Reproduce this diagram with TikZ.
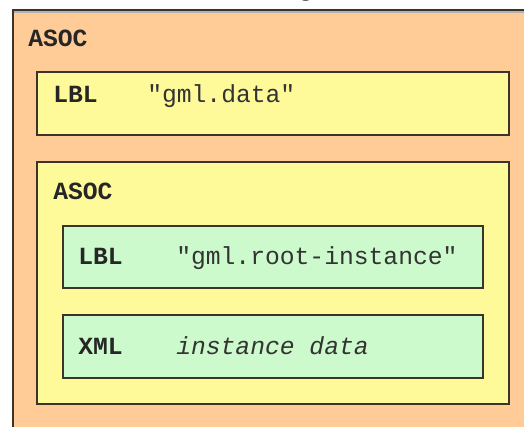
\documentclass[tikz,border=0pt]{standalone}
\usepackage{fontspec}
\setmainfont{Liberation Sans}
\setmonofont{Liberation Mono}
\definecolor{orangefill}{HTML}{FFCB96}
\definecolor{yellowfill}{HTML}{FFFA99}
\definecolor{greenfill}{HTML}{CCFACC}
\definecolor{edgecol}{HTML}{3A3528}
\tikzset{
  box/.style={draw=edgecol, line width=1.3pt},
  kw/.style={anchor=base west, inner sep=0pt, font=\fontsize{18.5}{20}\selectfont\ttfamily\bfseries, text=black!85},
  val/.style={anchor=base west, inner sep=0pt, font=\fontsize{18.5}{20}\selectfont\ttfamily, text=black!80},
}
\begin{document}
\begin{tikzpicture}[x=0.75pt,y=-0.75pt]
\useasboundingbox (0,0) rectangle (524,427);
\fill[white] (0,0) rectangle (524,427);
% title fragment
\node[anchor=base, inner sep=0pt, font=\fontsize{24}{26}\selectfont, text=black] (title) at (306,-5) {g};
% outer ASOC box (open at right and bottom)
\fill[orangefill] (13,10) rectangle (530,432);
\draw[box, line width=1.5pt] (13,432) -- (13,10) -- (530,10);
\draw[gray!60, line width=0.8pt] (14,12) -- (530,12);
\node[kw] (asoc1) at (28,47) {ASOC};
% LBL gml.data
\draw[box, fill=yellowfill] (37,72) rectangle (509,135);
\node[kw] (lbl1) at (53,103) {LBL};
\node[val] (s1) at (147,103) {"gml.data"};
% inner ASOC
\draw[box, fill=yellowfill] (37,162) rectangle (509,404);
\node[kw] (asoc2) at (53,200) {ASOC};
\draw[box, fill=greenfill] (63,226) rectangle (483,288);
\node[kw] (lbl2) at (78,265) {LBL};
\node[val] (s2) at (176,265) {"gml.root-instance"};
\draw[box, fill=greenfill] (63,315) rectangle (483,378);
\node[kw] (xml) at (78,354) {XML};
\node[val, font=\fontsize{18.5}{20}\selectfont\ttfamily\itshape] (s3) at (176,354) {instance data};
\end{tikzpicture}
\end{document}
